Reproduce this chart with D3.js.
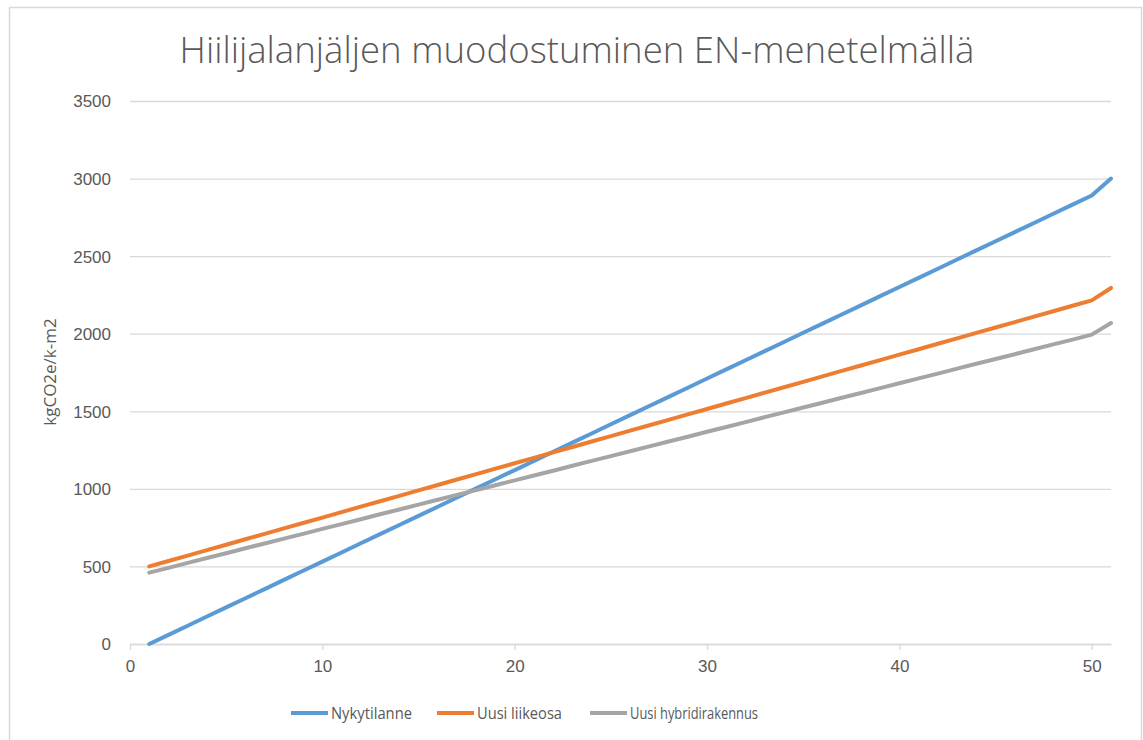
<!DOCTYPE html>
<html>
<head>
<meta charset="utf-8">
<script src="https://cdn.jsdelivr.net/npm/d3@7"></script>
<style>
  html, body { margin: 0; padding: 0; background: #fff; }
  svg { display: block; font-family: "Open Sans", "DejaVu Sans", sans-serif; }
</style>
</head>
<body>
<svg id="chart" width="1143" height="740"></svg>
<script>
// Years 1..51 of the building life cycle
const years = [1,2,3,4,5,6,7,8,9,10,11,12,13,14,15,16,17,18,19,20,21,22,23,24,25,26,27,28,29,30,31,32,33,34,35,36,37,38,39,40,41,42,43,44,45,46,47,48,49,50,51];

// Cumulative carbon footprint, kgCO2e per gross m2
const nykytilanne = [0,59,118,177,236,295,354,413,472,531,590,649,708,767,826,885,944,1003,1062,1121,1180,1239,1298,1357,1416,1475,1534,1593,1652,1711,1770,1829,1888,1947,2006,2065,2124,2183,2242,2301,2360,2419,2478,2537,2596,2655,2714,2773,2832,2891,3000];
const uusiLiikeosa = [500,535,570,605,640,675,710,745,780,815,850,885,920,955,990,1025,1060,1095,1130,1165,1200,1235,1270,1305,1340,1375,1410,1445,1480,1515,1550,1585,1620,1655,1690,1725,1760,1795,1830,1865,1900,1935,1970,2005,2040,2075,2110,2145,2180,2215,2295];
const uusiHybridi = [460,491,523,554,585,617,648,679,710,742,773,804,836,867,898,930,961,992,1023,1055,1086,1117,1149,1180,1211,1242,1274,1305,1336,1368,1399,1430,1462,1493,1524,1555,1587,1618,1649,1681,1712,1743,1775,1806,1837,1868,1900,1931,1962,1994,2069];

const seriesNames = ["Nykytilanne", "Uusi liikeosa", "Uusi hybridirakennus"];
const seriesColors = ["#5B9BD5", "#ED7D31", "#A5A5A5"];
const yTicks = [0,500,1000,1500,2000,2500,3000,3500];
const xTicks = [0,10,20,30,40,50];
const titleText = "Hiilijalanjäljen muodostuminen EN-menetelmällä";
const yLabel = "kgCO2e/k-m2";

const series = [nykytilanne, uusiLiikeosa, uusiHybridi];

const svg = d3.select("#chart");
const textColor = "#595959";
const gridColor = "#D9D9D9";

// chart frame
svg.append("rect")
  .attr("x", 9.5).attr("y", 7.5)
  .attr("width", 1132).attr("height", 760)
  .attr("fill", "#fff")
  .attr("stroke", gridColor).attr("stroke-width", 1.5);

const plot = { left: 130, right: 1111, top: 101, bottom: 644 };

const x = d3.scaleLinear().domain([0, 51]).range([plot.left, plot.right]);
const y = d3.scaleLinear().domain([0, 3500]).range([plot.bottom, plot.top]);

// horizontal gridlines + y labels
const yAxis = d3.axisLeft(y).tickValues(yTicks).tickFormat(d3.format("d"))
  .tickSize(-(plot.right - plot.left)).tickPadding(19);
const gy = svg.append("g").attr("transform", `translate(${plot.left},0)`).call(yAxis);
gy.select(".domain").remove();
gy.selectAll(".tick line").attr("stroke", gridColor).attr("stroke-width", 1.3);
gy.selectAll(".tick text")
  .attr("fill", textColor)
  .style("font-size", "17px")
  .attr("dy", "0.35em");

// x axis
const xAxis = d3.axisBottom(x).tickValues(xTicks).tickFormat(d3.format("d"))
  .tickSize(6).tickSizeOuter(0).tickPadding(10);
const gx = svg.append("g").attr("transform", `translate(0,${plot.bottom})`).call(xAxis);
gx.select(".domain").attr("stroke", gridColor).attr("stroke-width", 1.3);
gx.selectAll(".tick line").attr("stroke", gridColor).attr("stroke-width", 1.3);
gx.selectAll(".tick text").attr("fill", textColor).style("font-size", "17px");

// series lines
const line = d3.line()
  .x((d, i) => x(years[i]))
  .y(d => y(d));

series.forEach((vals, k) => {
  svg.append("path")
    .datum(vals)
    .attr("fill", "none")
    .attr("stroke", seriesColors[k])
    .attr("stroke-width", 4)
    .attr("stroke-linejoin", "round")
    .attr("stroke-linecap", "round")
    .attr("d", line);
});

// title
const title = svg.append("text")
  .attr("x", 577).attr("y", 63)
  .attr("text-anchor", "middle")
  .attr("fill", textColor)
  .style("font-size", "38px")
  .style("font-weight", 300)
  .text(titleText);
const tw = title.node().getComputedTextLength();
if (tw > 795) title.style("font-size", (38 * 795 / tw) + "px");

// y axis label
svg.append("text")
  .attr("transform", `translate(56,372) rotate(-90)`)
  .attr("text-anchor", "middle")
  .attr("fill", textColor)
  .style("font-size", "17px")
  .text(yLabel);

// legend (condensed lettering)
const legendX = [291, 437, 590];
const legendW = [81, 85, 128];
const legendY = 713;
const legend = svg.append("g");
seriesNames.forEach((name, k) => {
  legend.append("line")
    .attr("x1", legendX[k]).attr("x2", legendX[k] + 37)
    .attr("y1", legendY).attr("y2", legendY)
    .attr("stroke", seriesColors[k]).attr("stroke-width", 4);
  legend.append("text")
    .attr("x", legendX[k] + 40).attr("y", legendY)
    .attr("dy", "0.36em")
    .attr("fill", textColor)
    .attr("textLength", legendW[k])
    .attr("lengthAdjust", "spacingAndGlyphs")
    .style("font-size", "17px")
    .text(name);
});
</script>
</body>
</html>
